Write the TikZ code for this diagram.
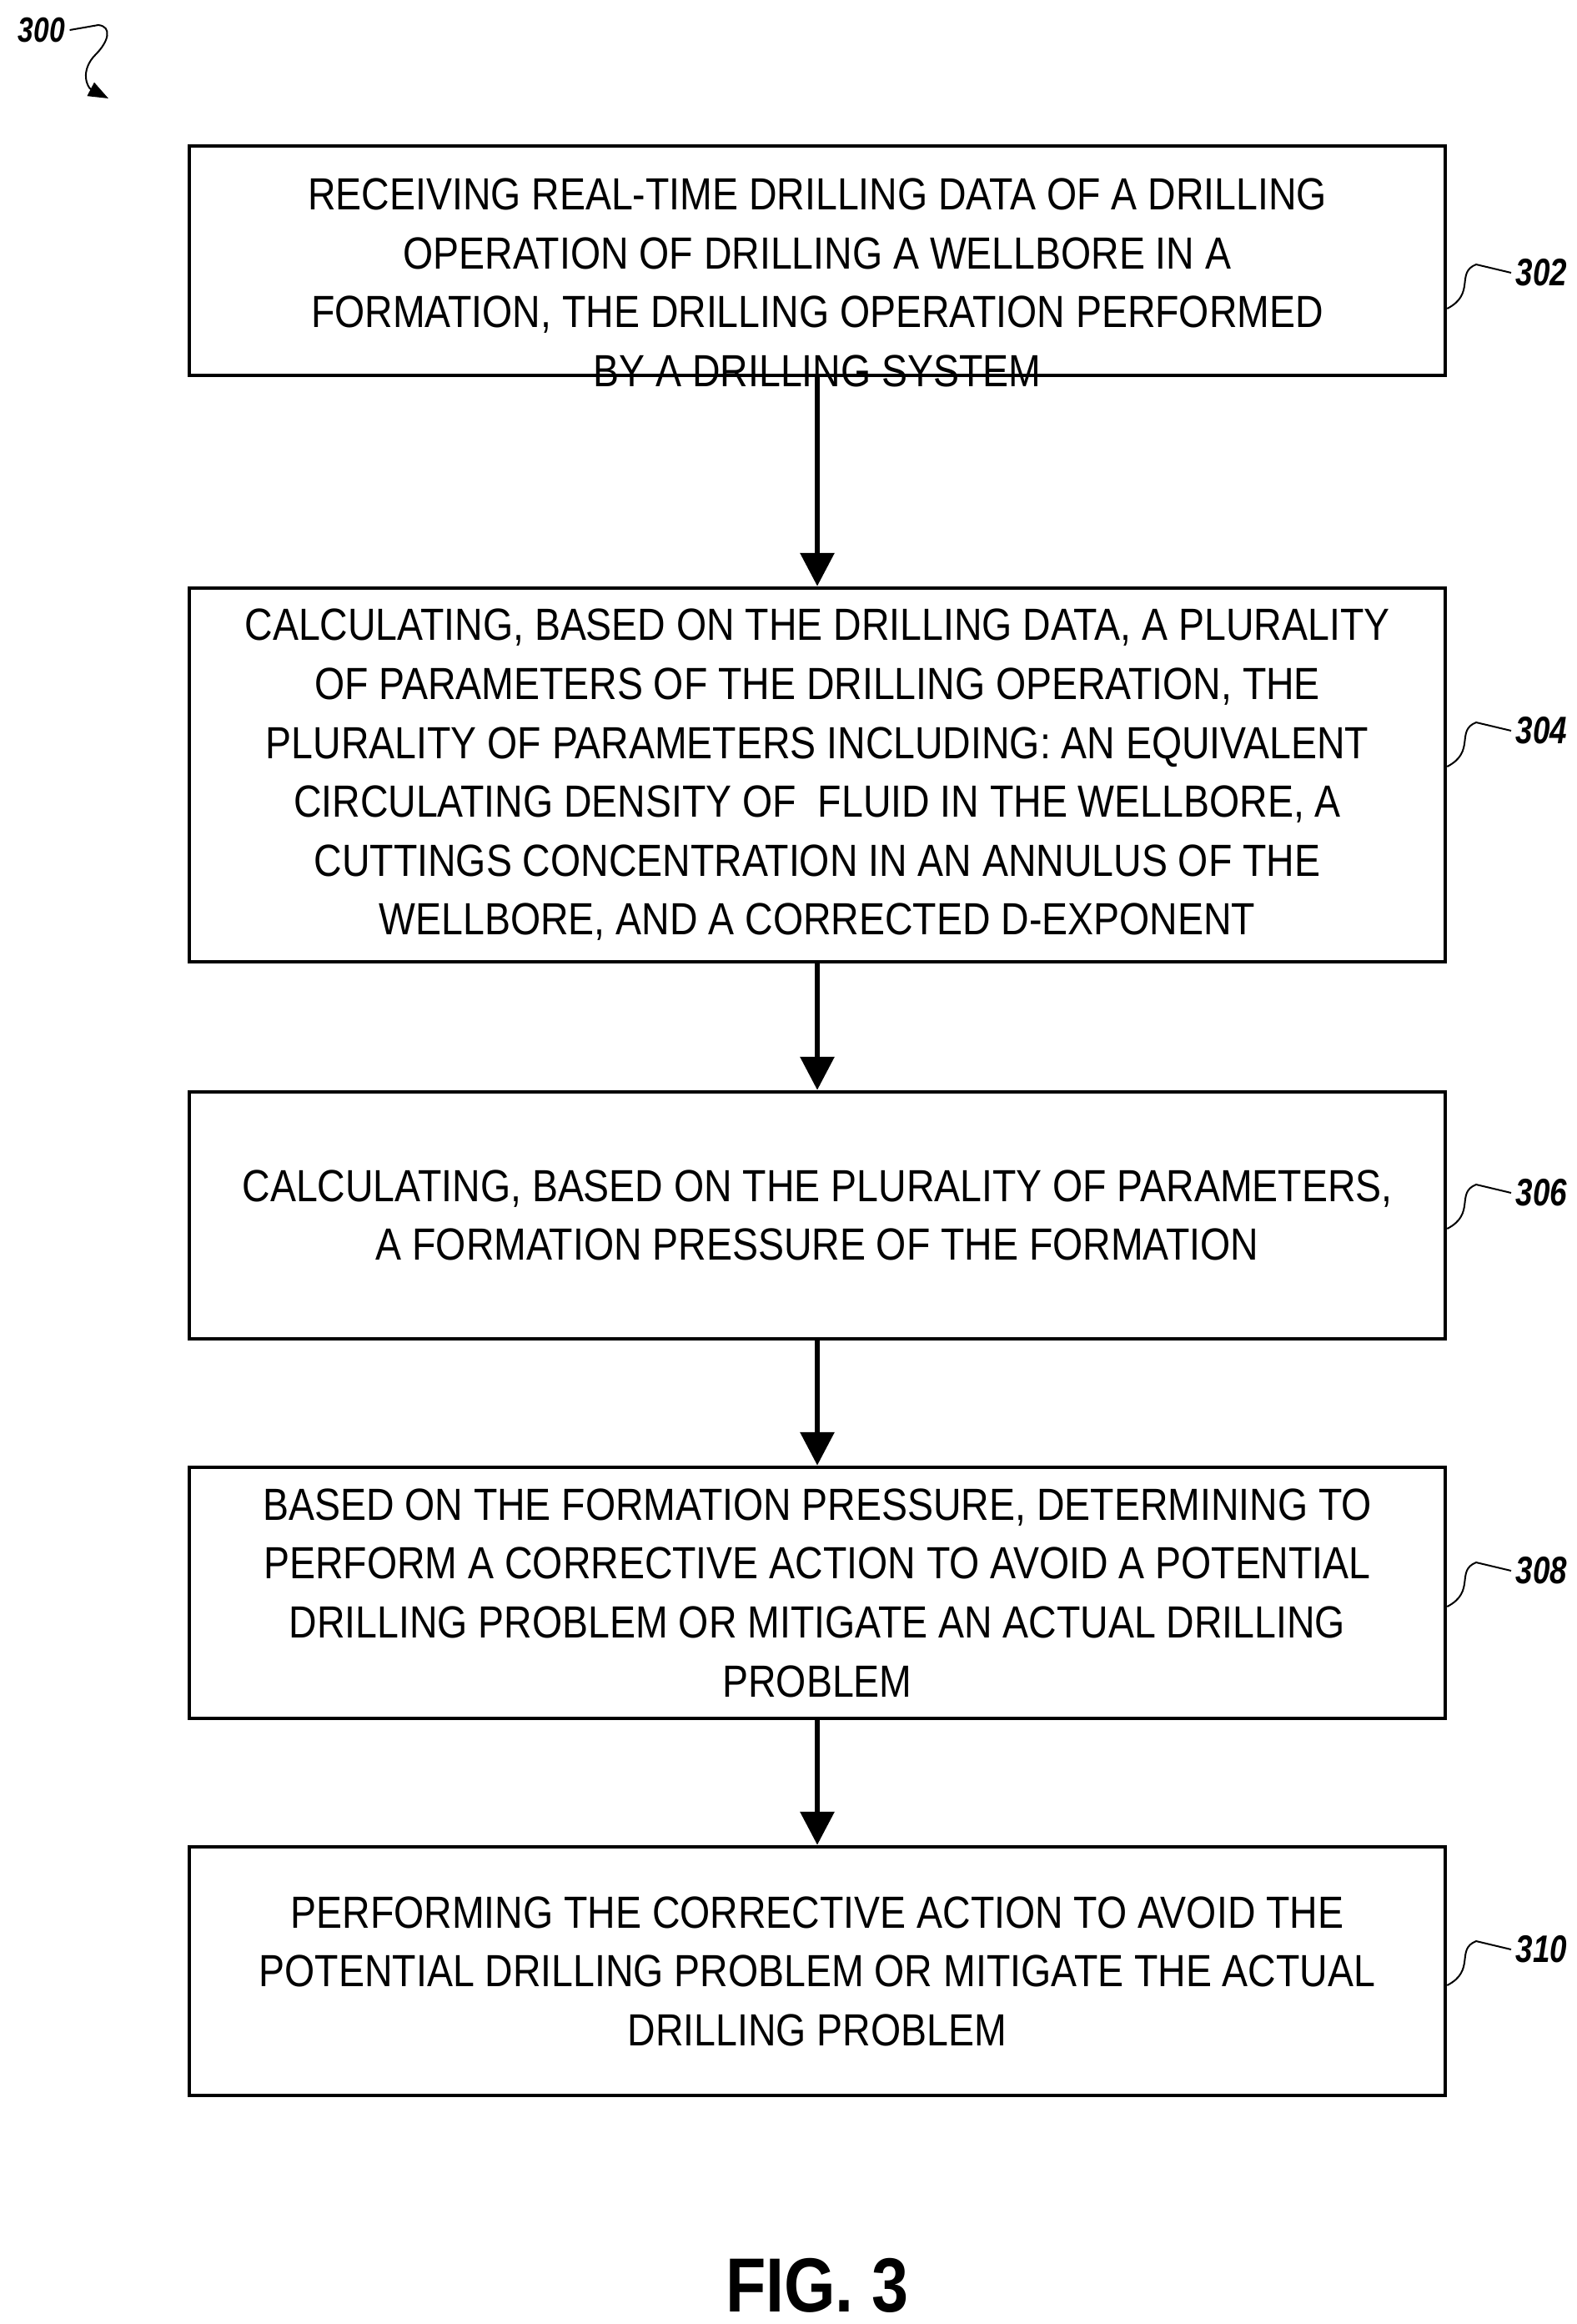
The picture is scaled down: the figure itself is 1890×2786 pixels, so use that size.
\documentclass[tikz,border=0pt]{standalone}
\usepackage{fontspec}
\setmainfont[FakeStretch=0.86]{Liberation Sans}
\newfontfamily\reffont[FakeStretch=0.8]{Liberation Sans}
\usetikzlibrary{arrows.meta}
\begin{document}
\begin{tikzpicture}[x=1pt,y=-1pt,line width=4.5pt,
  stage/.style={draw,rectangle,minimum width=1506pt,align=center,inner sep=0pt,
    font=\fontsize{54}{70.6}\selectfont},
  ref/.style={font=\reffont\bfseries\itshape\fontsize{46}{50}\selectfont,anchor=west},
  flow/.style={-{Triangle[length=40pt,width=40pt]},line width=6.5pt}]
\useasboundingbox (0,0) rectangle (1890,2786);

\node[stage,minimum height=275pt] at (980,312.5) (a) {};
\node[align=center,font=\fontsize{54}{70.6}\selectfont] at (980,339) (atext) {RECEIVING REAL-TIME DRILLING DATA OF A DRILLING\\OPERATION OF DRILLING A WELLBORE IN A\\FORMATION, THE DRILLING OPERATION PERFORMED\\BY A DRILLING SYSTEM};
\node[stage,minimum height=448pt] at (980,929) (b) {CALCULATING, BASED ON THE DRILLING DATA, A PLURALITY\\OF PARAMETERS OF THE DRILLING OPERATION, THE\\PLURALITY OF PARAMETERS INCLUDING: AN EQUIVALENT\\CIRCULATING DENSITY OF\ \ FLUID IN THE WELLBORE, A\\CUTTINGS CONCENTRATION IN AN ANNULUS OF THE\\WELLBORE, AND A CORRECTED D-EXPONENT};
\node[stage,minimum height=296pt] at (980,1457) (c) {CALCULATING, BASED ON THE PLURALITY OF PARAMETERS,\\A FORMATION PRESSURE OF THE FORMATION};
\node[stage,minimum height=301pt] at (980,1909.5) (d) {BASED ON THE FORMATION PRESSURE, DETERMINING TO\\PERFORM A CORRECTIVE ACTION TO AVOID A POTENTIAL\\DRILLING PROBLEM OR MITIGATE AN ACTUAL DRILLING\\PROBLEM};
\node[stage,minimum height=298pt] at (980,2363) (e) {PERFORMING THE CORRECTIVE ACTION TO AVOID THE\\POTENTIAL DRILLING PROBLEM OR MITIGATE THE ACTUAL\\DRILLING PROBLEM};

\draw[flow] (a) -- (b);
\draw[flow] (b) -- (c);
\draw[flow] (c) -- (d);
\draw[flow] (d) -- (e);

% reference numerals
\foreach \n/\nd/\yy in {302/a/327,304/b/876,306/c/1430,308/d/1883,310/e/2337}{
  \node[ref] at (1812,\yy) (l\n) {\n};
  \draw[line width=2pt] (\nd.east |- 0,\yy+43) .. controls (1770,\yy+25) and (1745,\yy) .. (1770,\yy-10) -- (l\n.west);
}

\node[font=\reffont\bfseries\itshape\fontsize{42}{46}\selectfont] at (50,36) (fig) {300};
\coordinate (figtip) at (130,118);
\draw[line width=2pt,-{Triangle[length=24pt,width=18pt]}] (fig.east) -- (118,30) .. controls (135,32) and (130,50) .. (115,65) .. controls (95,85) and (105,105) .. (figtip);

\node[font=\bfseries\fontsize{92}{100}\selectfont] at (980,2740) (cap) {FIG. 3};
\end{tikzpicture}
\end{document}
